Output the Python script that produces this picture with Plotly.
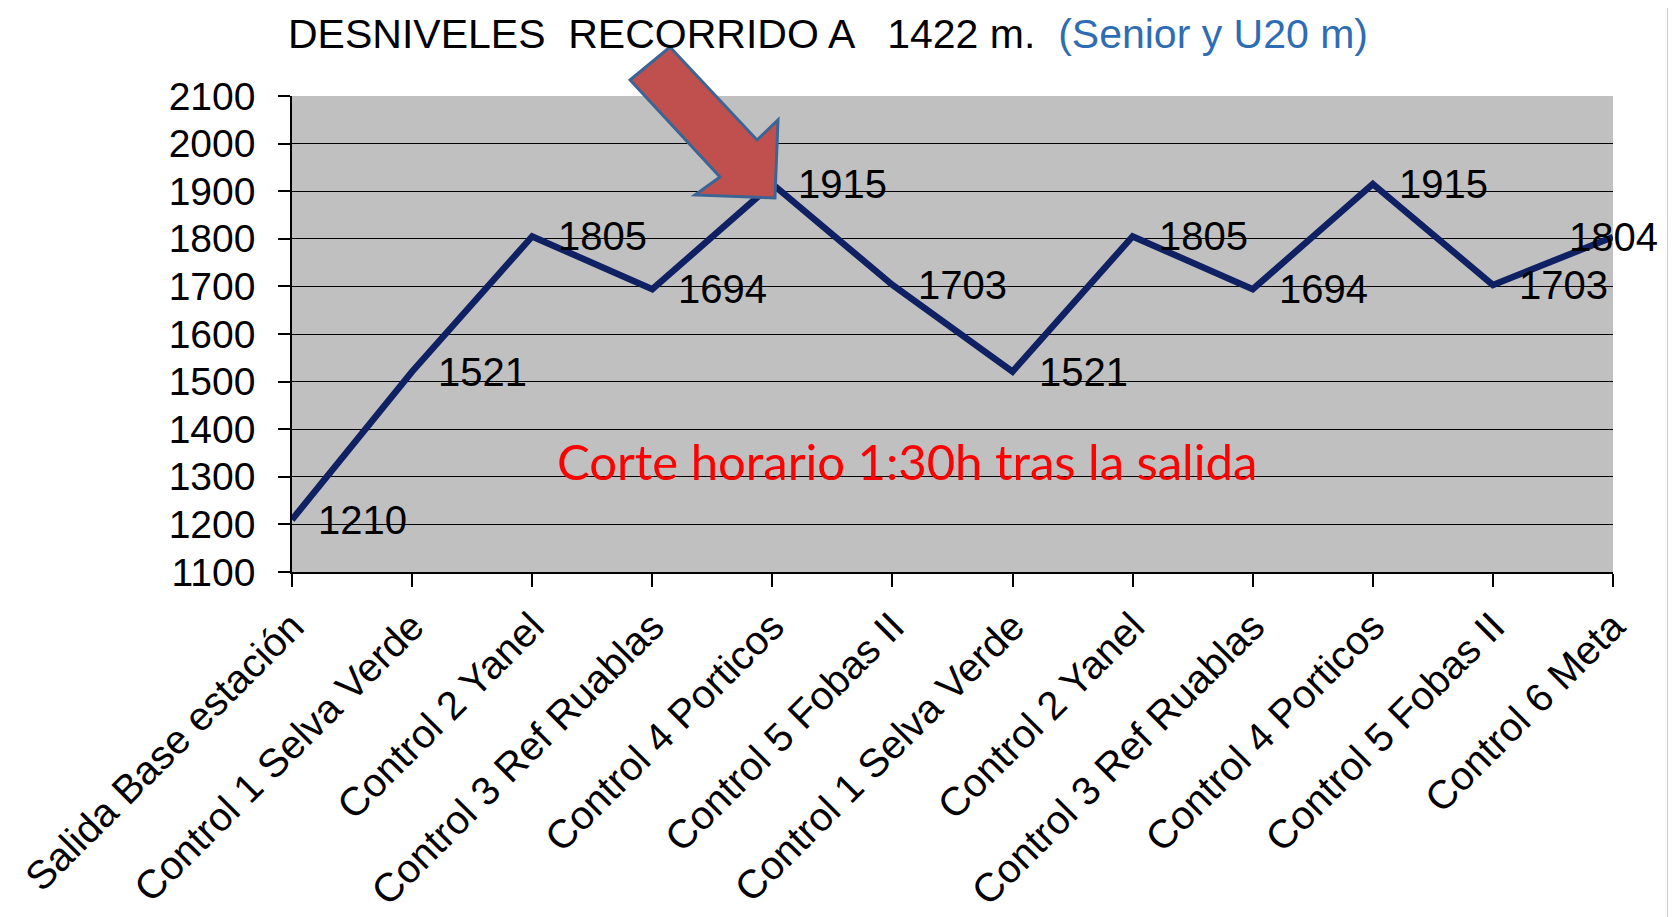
import plotly.graph_objects as go

# Data
checkpoints = [
    "Salida Base estación",
    "Control 1 Selva Verde",
    "Control 2 Yanel",
    "Control 3 Ref Ruablas",
    "Control 4 Porticos",
    "Control 5 Fobas II",
    "Control 1 Selva Verde",
    "Control 2 Yanel",
    "Control 3 Ref Ruablas",
    "Control 4 Porticos",
    "Control 5 Fobas II",
    "Control 6 Meta",
]
altitudes = [1210, 1521, 1805, 1694, 1915, 1703, 1521, 1805, 1694, 1915, 1703, 1804]
y_ticks = list(range(1100, 2101, 100))

title_main = "DESNIVELES\u00a0 RECORRIDO A \u00a0 1422 m.\u00a0 "
title_sub = "(Senior y U20 m)"
note_text = "Corte horario 1:30h tras la salida"

# page is 1676x917, the plot div sits 8px in from the body margin
PAGE_W, PAGE_H, OFFSET = 1676, 917, 8
WIDTH, HEIGHT = PAGE_W - OFFSET, PAGE_H - OFFSET
PLOT_L, PLOT_R, PLOT_T, PLOT_B = 292, 1613, 96, 572  # page pixels
FONT = "Liberation Sans, Arial, sans-serif"


def to_paper(px, py):
    return (px - PLOT_L) / (PLOT_R - PLOT_L), (PLOT_B - py) / (PLOT_B - PLOT_T)


def arrow_path(points):
    coords = [to_paper(px, py) for px, py in points]
    return "M " + " L ".join(f"{x:.4f},{y:.4f}" for x, y in coords) + " Z"


x_idx = list(range(len(checkpoints)))

fig = go.Figure()
fig.add_trace(
    go.Scatter(
        x=x_idx,
        y=altitudes,
        mode="lines",
        line=dict(color="#0F2163", width=6.5),
        cliponaxis=False,
        hoverinfo="skip",
    )
)

# data labels
annotations = []
for i, v in enumerate(altitudes):
    last = i == len(altitudes) - 1
    annotations.append(
        dict(
            x=i,
            y=v,
            xref="x",
            yref="y",
            text=str(v),
            showarrow=False,
            xanchor="center" if last else "left",
            yanchor="middle",
            xshift=0 if last else 24,
            font=dict(family=FONT, size=40, color="black"),
        )
    )

nx, ny = to_paper(907, 461)
annotations.append(
    dict(
        x=nx,
        y=ny,
        xref="paper",
        yref="paper",
        text=note_text,
        showarrow=False,
        xanchor="center",
        yanchor="middle",
        font=dict(family="Lato, Carlito, sans-serif", size=49, color="#FF0000"),
    )
)

arrow_pts = [(630, 80), (670, 47), (757, 140), (778, 120), (775, 198), (695, 195), (720, 177)]
line_x0, _ = to_paper(1668, 0)
edge_x1, _ = to_paper(PAGE_W, 0)
_, top_y = to_paper(0, OFFSET)
_, bot_y = to_paper(0, PAGE_H)

shapes = [
    dict(
        type="rect", xref="paper", yref="paper",
        x0=line_x0, x1=edge_x1, y0=bot_y, y1=top_y,
        fillcolor="#EEF5F2", line=dict(width=0), layer="below",
    ),
    dict(
        type="line", xref="paper", yref="paper",
        x0=line_x0, x1=line_x0, y0=bot_y, y1=top_y,
        line=dict(color="#C3D2CE", width=2),
    ),
    dict(
        type="path", xref="paper", yref="paper",
        path=arrow_path(arrow_pts),
        fillcolor="#C0504D",
        line=dict(color="#3C6494", width=3),
        layer="above",
    ),
]

fig.update_layout(
    width=WIDTH,
    height=HEIGHT,
    autosize=False,
    margin=dict(
        l=PLOT_L - OFFSET,
        r=PAGE_W - PLOT_R,
        t=PLOT_T - OFFSET,
        b=PAGE_H - PLOT_B,
        autoexpand=False,
    ),
    paper_bgcolor="white",
    plot_bgcolor="#C0C0C0",
    showlegend=False,
    title=dict(
        text=title_main + f"<span style='color:#2E6DB4'>{title_sub}</span>",
        x=(828 - OFFSET) / WIDTH,
        xanchor="center",
        y=1 - (34 - OFFSET) / HEIGHT,
        yanchor="middle",
        font=dict(family=FONT, size=41, color="black"),
    ),
    annotations=annotations,
    shapes=shapes,
)

fig.update_xaxes(
    range=[0, len(checkpoints) - 1],
    tickvals=x_idx,
    ticktext=checkpoints,
    tickangle=-45,
    ticks="outside",
    ticklen=13,
    tickwidth=1.5,
    tickcolor="black",
    showgrid=False,
    zeroline=False,
    showline=True,
    linecolor="black",
    linewidth=2,
    automargin=False,
    tickfont=dict(family=FONT, size=40, color="black"),
)

fig.update_yaxes(
    range=[1100, 2100],
    tickvals=y_ticks,
    ticks="outside",
    ticklen=12,
    tickwidth=1.5,
    tickcolor="black",
    showgrid=True,
    gridcolor="black",
    gridwidth=1.2,
    zeroline=False,
    showline=True,
    linecolor="black",
    linewidth=1.5,
    automargin=False,
    ticklabelstandoff=15,
    tickfont=dict(family=FONT, size=39, color="black"),
)

fig.write_html("out.html")
